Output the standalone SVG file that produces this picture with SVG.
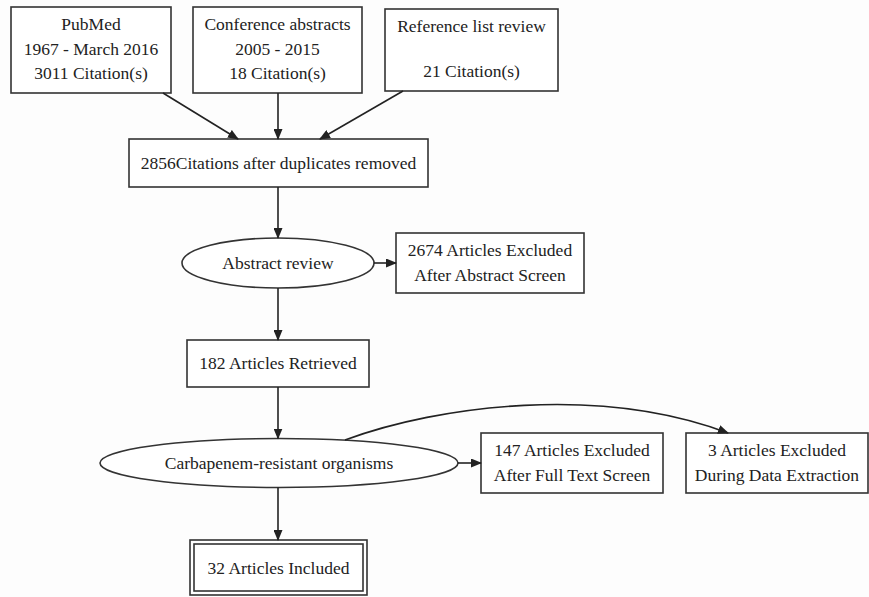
<svg xmlns="http://www.w3.org/2000/svg" width="869" height="597" viewBox="0 0 869 597">
<defs>
<marker id="ah" markerWidth="11" markerHeight="9" refX="10" refY="4.5" orient="auto" markerUnits="userSpaceOnUse">
<path d="M0,0 L11,4.5 L0,9 Z" fill="#222"/>
</marker>
<style>
.n{fill:#fff;stroke:#333;stroke-width:1.6}
.t{font-family:'Liberation Serif','DejaVu Serif','Times New Roman',Times,serif;font-size:17.5px;fill:#222;text-anchor:middle}
.e{fill:none;stroke:#222;stroke-width:1.6;marker-end:url(#ah)}
</style>
</defs>
<rect width="869" height="597" fill="#fdfdfd"/>
<g id="pubmed"><rect class="n" x="11" y="7" width="160" height="86"/>
<text class="t" x="91" y="30">PubMed</text><text class="t" x="91" y="55">1967 - March 2016</text><text class="t" x="91" y="79">3011 Citation(s)</text></g>
<g id="conf"><rect class="n" x="193" y="7" width="169" height="86"/>
<text class="t" x="277.5" y="30">Conference abstracts</text><text class="t" x="277.5" y="55">2005 - 2015</text><text class="t" x="277.5" y="79">18 Citation(s)</text></g>
<g id="ref"><rect class="n" x="385" y="9" width="173" height="82"/>
<text class="t" x="471.5" y="32">Reference list review</text><text class="t" x="471.5" y="77">21 Citation(s)</text></g>
<g id="dedup"><rect class="n" x="129" y="139" width="299" height="48"/>
<text class="t" x="278.5" y="168.5">2856Citations after duplicates removed</text></g>
<g id="abstract"><ellipse class="n" cx="278" cy="263" rx="96" ry="25"/>
<text class="t" x="278" y="268.5">Abstract review</text></g>
<g id="excl1"><rect class="n" x="396" y="233" width="188" height="60"/>
<text class="t" x="490" y="256">2674 Articles Excluded</text><text class="t" x="490" y="281">After Abstract Screen</text></g>
<g id="retrieved"><rect class="n" x="187" y="340" width="182" height="47"/>
<text class="t" x="278" y="369">182 Articles Retrieved</text></g>
<g id="carba"><ellipse class="n" cx="279" cy="463" rx="179" ry="24.5"/>
<text class="t" x="279" y="468.5">Carbapenem-resistant organisms</text></g>
<g id="excl2"><rect class="n" x="481" y="433" width="182" height="60"/>
<text class="t" x="572" y="456">147 Articles Excluded</text><text class="t" x="572" y="481">After Full Text Screen</text></g>
<g id="excl3"><rect class="n" x="686" y="433" width="182" height="60"/>
<text class="t" x="777" y="456">3 Articles Excluded</text><text class="t" x="777" y="481">During Data Extraction</text></g>
<g id="included"><rect class="n" x="190" y="540" width="177" height="55"/><rect class="n" x="194" y="544" width="169" height="47"/>
<text class="t" x="278.5" y="573.5">32 Articles Included</text></g>
<g id="edges">
<path class="e" d="M163,93 L238,139"/>
<path class="e" d="M278,93 L278,139"/>
<path class="e" d="M403,91 L320,139"/>
<path class="e" d="M278,187 L278,238"/>
<path class="e" d="M374,263 L396,263"/>
<path class="e" d="M278,288 L278,340"/>
<path class="e" d="M278,387 L278,438.5"/>
<path class="e" d="M458,463 L481,463"/>
<path class="e" d="M345,440 C440,405 600,385 728,433"/>
<path class="e" d="M278,487.5 L278,540"/>
</g>
</svg>
